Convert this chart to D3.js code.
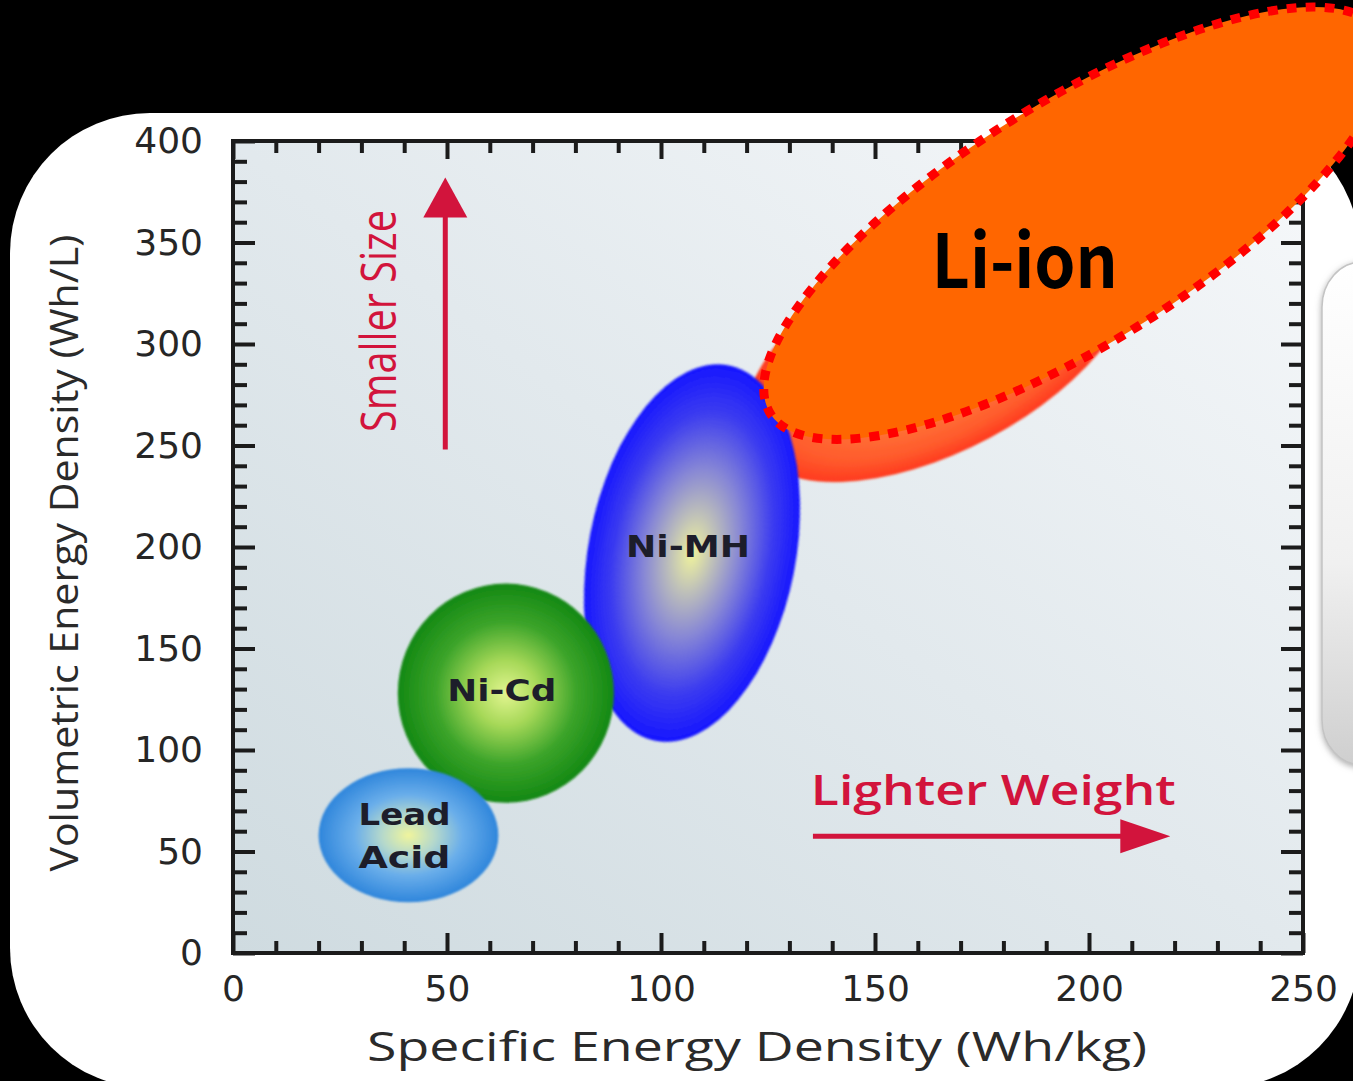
<!DOCTYPE html>
<html>
<head>
<meta charset="utf-8">
<script src="https://cdn.jsdelivr.net/npm/d3@7"></script>
<style>
html, body { margin: 0; padding: 0; background: #000; }
svg { display: block; }
</style>
</head>
<body>
<svg id="chart" width="1353" height="1081"></svg>
<script>
// battery regions (back to front)
var chemistries = ['Li-ion', 'Ni-MH', 'Ni-Cd', 'Lead Acid'];
var specificMin = [119.5, 82, 38.5, 20];      // Wh/kg
var specificMax = [211, 132.5, 89, 62];
var volumetricMin = [232, 104, 74, 25];       // Wh/L
var volumetricMax = [367, 290, 182, 91];

// the highlighted Li-ion region drawn over everything
var highlightSpecific = [124, 269.5];
var highlightVolumetric = [253, 466];

var xTicks = [0, 50, 100, 150, 200, 250];
var yTicks = [0, 50, 100, 150, 200, 250, 300, 350, 400];
var xMinor = d3.range(10, 250, 10).filter(function(v) { return v % 50; });
var yMinor = d3.range(10, 400, 10).filter(function(v) { return v % 50; });

// look of each blob
var blobStyle = {
	'Li-ion':    { tilt: 28, label: [], stops: [[0, '#ff9448'], [0.6, '#ff7436'], [0.85, '#ff5a2c'], [1, '#ff3a1e']] },
	'Ni-MH':     { tilt: 79, label: ['Ni-MH'], dy: -7, lw: 124, stops: [[0, '#f0f39c'], [0.2, '#c0c2b8'], [0.45, '#8686d6'], [0.75, '#3b3bf0'], [1, '#1616ff']] },
	'Ni-Cd':     { tilt: 0, label: ['Ni-Cd'], dy: -3, lw: 109, stops: [[0, '#e2f590'], [0.3, '#a6d858'], [0.65, '#3ca42a'], [1, '#138813']] },
	'Lead Acid': { tilt: 0, label: ['Lead', 'Acid'], dy: 0, lw: 92, stops: [[0, '#f0f59c'], [0.3, '#b4d8cc'], [0.6, '#6aaeea'], [1, '#2f86dc']] }
};

var svg = d3.select('#chart');
var defs = svg.append('defs');

var x = d3.scaleLinear().domain([0, 250]).range([233, 1303]);
var y = d3.scaleLinear().domain([0, 400]).range([953, 141]);

// semi axes of a tilted ellipse from its half width / half height
function axesFor(hw, hh, deg) {
	if (!deg) return { a: hw, b: hh };
	var t = deg * Math.PI / 180, c2 = Math.cos(t) * Math.cos(t), s2 = Math.sin(t) * Math.sin(t);
	return {
		a: Math.sqrt((hw * hw * c2 - hh * hh * s2) / (c2 - s2)),
		b: Math.sqrt((hh * hh * c2 - hw * hw * s2) / (c2 - s2))
	};
}

// gradients and filters
var bg = defs.append('linearGradient').attr('id', 'plotBg')
	.attr('x1', 0).attr('y1', 1).attr('x2', 1).attr('y2', 0);
bg.append('stop').attr('offset', 0).attr('stop-color', '#cfdbe0');
bg.append('stop').attr('offset', 0.5).attr('stop-color', '#e2e9ed');
bg.append('stop').attr('offset', 1).attr('stop-color', '#f6f8fa');

var side = defs.append('linearGradient').attr('id', 'sidePanel')
	.attr('x1', 0).attr('y1', 0).attr('x2', 0).attr('y2', 1);
side.append('stop').attr('offset', 0).attr('stop-color', '#ffffff');
side.append('stop').attr('offset', 0.6).attr('stop-color', '#f0f0f0');
side.append('stop').attr('offset', 1).attr('stop-color', '#cfcfcf');

defs.append('filter').attr('id', 'soft')
	.append('feGaussianBlur').attr('stdDeviation', 1.3);
defs.append('filter').attr('id', 'shadow').attr('x', -0.5).attr('y', -0.2).attr('width', 2).attr('height', 1.4)
	.append('feDropShadow').attr('dx', 0).attr('dy', 2).attr('stdDeviation', 3).attr('flood-color', '#888').attr('flood-opacity', 0.7);

chemistries.forEach(function(name, i) {
	var g = defs.append('radialGradient').attr('id', 'blob' + i);
	blobStyle[name].stops.forEach(function(s) {
		g.append('stop').attr('offset', s[0]).attr('stop-color', s[1]);
	});
});

// white slide panel
svg.append('rect')
	.attr('x', 10).attr('y', 113).attr('width', 1350).attr('height', 975).attr('rx', 140)
	.style('fill', '#ffffff');

// side panel on the right
svg.append('rect')
	.attr('x', 1322).attr('y', 262).attr('width', 80).attr('height', 503).attr('rx', 45)
	.style('fill', 'url(#sidePanel)').style('stroke', '#c4c4c4').style('stroke-width', 1.5)
	.attr('filter', 'url(#shadow)');

// plot background
svg.append('rect')
	.attr('x', x(0)).attr('y', y(400)).attr('width', x(250) - x(0)).attr('height', y(0) - y(400))
	.style('fill', 'url(#plotBg)');

// blobs
var blobs = chemistries.map(function(name, i) {
	var st = blobStyle[name];
	var x0 = x(specificMin[i]), x1 = x(specificMax[i]);
	var y0 = y(volumetricMin[i]), y1 = y(volumetricMax[i]);
	var ax = axesFor((x1 - x0) / 2, (y0 - y1) / 2, st.tilt);
	return { name: name, i: i, cx: (x0 + x1) / 2, cy: (y0 + y1) / 2, a: ax.a, b: ax.b, st: st };
});

svg.append('g').selectAll('ellipse').data(blobs).join('ellipse')
	.attr('cx', d => d.cx).attr('cy', d => d.cy)
	.attr('rx', d => d.a).attr('ry', d => d.b)
	.attr('transform', d => 'rotate(' + (-d.st.tilt) + ',' + d.cx + ',' + d.cy + ')')
	.attr('filter', 'url(#soft)')
	.style('fill', d => 'url(#blob' + d.i + ')');

// blob labels
var labelG = svg.append('g');
blobs.forEach(function(d) {
	var lines = d.st.label, n = lines.length;
	lines.forEach(function(t, k) {
		labelG.append('text')
			.attr('x', d.cx - 4)
			.attr('y', d.cy + d.st.dy + 11 + (k - (n - 1) / 2) * 43)
			.attr('text-anchor', 'middle')
			.attr('textLength', d.st.lw)
			.attr('lengthAdjust', 'spacingAndGlyphs')
			.style('font-family', '"DejaVu Sans", sans-serif')
			.style('font-weight', 'bold')
			.style('font-size', '31px')
			.style('fill', '#1d1d2a')
			.text(t);
	});
});

// axes: major ticks with labels, minor ticks, mirrored on top and right
function styleAxis(g) {
	g.select('.domain').remove();
	g.attr('font-size', null).attr('font-family', null);
	g.selectAll('.tick line').style('stroke', '#1b1b1b').style('stroke-width', 4);
	g.selectAll('.tick text')
		.style('font-family', '"DejaVu Sans", sans-serif')
		.style('font-size', '36px')
		.style('fill', '#262626');
}
var blank = function() { return ''; };

svg.append('g').attr('transform', 'translate(0,' + y(0) + ')')
	.call(d3.axisBottom(x).tickValues(xTicks).tickSize(-20).tickPadding(22).tickFormat(d3.format('d')))
	.call(styleAxis);
svg.append('g').attr('transform', 'translate(0,' + y(0) + ')')
	.call(d3.axisBottom(x).tickValues(xMinor).tickSize(-12).tickFormat(blank)).call(styleAxis);
svg.append('g').attr('transform', 'translate(0,' + y(400) + ')')
	.call(d3.axisTop(x).tickValues(xTicks).tickSize(-18).tickFormat(blank)).call(styleAxis);
svg.append('g').attr('transform', 'translate(0,' + y(400) + ')')
	.call(d3.axisTop(x).tickValues(xMinor).tickSize(-12).tickFormat(blank)).call(styleAxis);

svg.append('g').attr('transform', 'translate(' + x(0) + ',0)')
	.call(d3.axisLeft(y).tickValues(yTicks).tickSize(-22).tickPadding(30).tickFormat(d3.format('d')))
	.call(styleAxis);
svg.append('g').attr('transform', 'translate(' + x(0) + ',0)')
	.call(d3.axisLeft(y).tickValues(yMinor).tickSize(-14).tickFormat(blank)).call(styleAxis);
svg.append('g').attr('transform', 'translate(' + x(250) + ',0)')
	.call(d3.axisRight(y).tickValues(yTicks).tickSize(-22).tickFormat(blank)).call(styleAxis);
svg.append('g').attr('transform', 'translate(' + x(250) + ',0)')
	.call(d3.axisRight(y).tickValues(yMinor).tickSize(-14).tickFormat(blank)).call(styleAxis);

// frame
svg.append('rect')
	.attr('x', x(0)).attr('y', y(400)).attr('width', x(250) - x(0)).attr('height', y(0) - y(400))
	.style('fill', 'none').style('stroke', '#1b1b1b').style('stroke-width', 4);

// axis titles
svg.append('text')
	.attr('transform', 'translate(78,' + y(197) + ') rotate(-90)')
	.attr('text-anchor', 'middle')
	.attr('textLength', 637).attr('lengthAdjust', 'spacingAndGlyphs')
	.style('font-family', '"Open Sans", sans-serif').style('font-size', '38px').style('fill', '#2a2a2a')
	.text('Volumetric Energy Density (Wh/L)');
svg.append('text')
	.attr('x', 757).attr('y', 1061)
	.attr('text-anchor', 'middle')
	.attr('textLength', 780).attr('lengthAdjust', 'spacingAndGlyphs')
	.style('font-family', '"Open Sans", sans-serif').style('font-size', '40px').style('fill', '#2a2a2a')
	.text('Specific Energy Density (Wh/kg)');

// red arrows and notes
var red = '#d2143c';
svg.append('line')
	.attr('x1', x(49.6)).attr('x2', x(49.6)).attr('y1', y(248)).attr('y2', y(365))
	.style('stroke', red).style('stroke-width', 5);
svg.append('path')
	.attr('d', 'M' + x(49.6) + ',' + y(382) + ' L' + (x(49.6) - 22) + ',' + (y(382) + 40) + ' L' + (x(49.6) + 22) + ',' + (y(382) + 40) + ' Z')
	.style('fill', red);
svg.append('text')
	.attr('transform', 'translate(396,' + y(311.3) + ') rotate(-90)')
	.attr('text-anchor', 'middle')
	.attr('textLength', 222).attr('lengthAdjust', 'spacingAndGlyphs')
	.style('font-family', '"Open Sans", sans-serif').style('font-size', '50px').style('fill', red)
	.text('Smaller Size');

svg.append('line')
	.attr('x1', x(135.5)).attr('x2', x(208)).attr('y1', y(57.5)).attr('y2', y(57.5))
	.style('stroke', red).style('stroke-width', 5);
svg.append('path')
	.attr('d', 'M' + x(219) + ',' + y(57.5) + ' L' + (x(219) - 50) + ',' + (y(57.5) - 17) + ' L' + (x(219) - 50) + ',' + (y(57.5) + 17) + ' Z')
	.style('fill', red);
svg.append('text')
	.attr('x', x(135)).attr('y', 805)
	.attr('textLength', 365).attr('lengthAdjust', 'spacingAndGlyphs')
	.style('font-family', '"Open Sans", sans-serif').style('font-weight', 600).style('font-size', '42px').style('fill', red)
	.text('Lighter Weight');

// highlighted Li-ion region on top
var hx0 = x(highlightSpecific[0]), hx1 = x(highlightSpecific[1]);
var hy0 = y(highlightVolumetric[0]), hy1 = y(highlightVolumetric[1]);
var hcx = (hx0 + hx1) / 2, hcy = (hy0 + hy1) / 2;
var hAx = axesFor((hx1 - hx0) / 2, (hy0 - hy1) / 2, 32);
svg.append('ellipse')
	.attr('cx', hcx).attr('cy', hcy).attr('rx', hAx.a).attr('ry', hAx.b)
	.attr('transform', 'rotate(-32,' + hcx + ',' + hcy + ')')
	.style('fill', '#ff6600').style('stroke', '#ff0000')
	.style('stroke-width', 9).style('stroke-dasharray', '10,9');
svg.append('text')
	.attr('x', x(185)).attr('y', y(327.5))
	.attr('text-anchor', 'middle')
	.attr('textLength', 186).attr('lengthAdjust', 'spacingAndGlyphs')
	.style('font-family', '"Noto Sans CJK KR", "Noto Sans", sans-serif').style('font-weight', 700)
	.style('font-size', '74px').style('fill', '#000')
	.text('Li-ion');
</script>
</body>
</html>
